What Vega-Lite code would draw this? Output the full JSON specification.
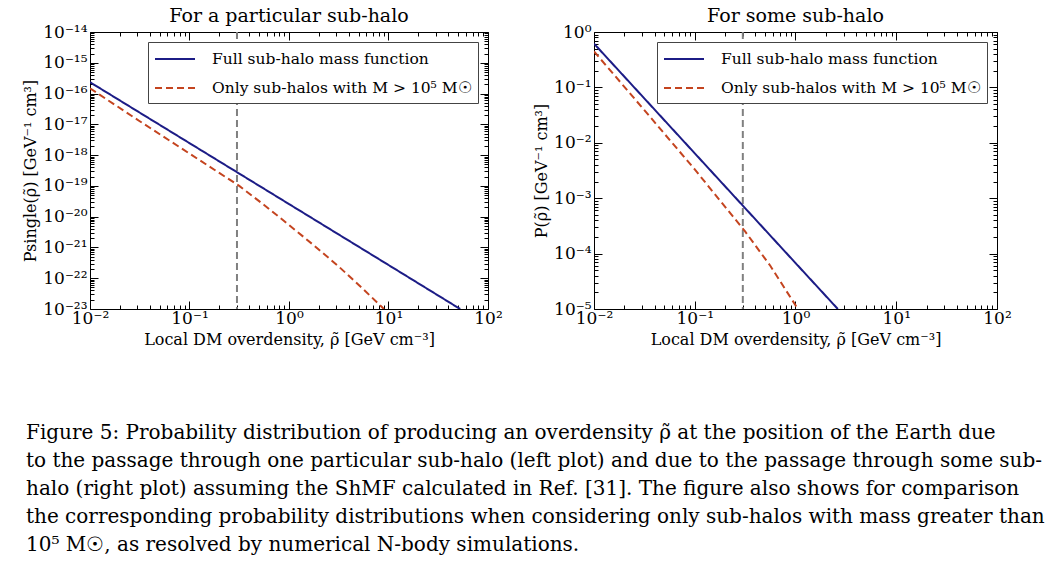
{
  "$schema": "https://vega.github.io/schema/vega-lite/v6.json",
  "padding": {"left": 22, "top": 6, "right": 0, "bottom": 0},
  "background": "white",
  "title": {
    "text": [
      "Figure 5:  Probability distribution of producing an overdensity ρ̃ at the position of the Earth due",
      "to the passage through one particular sub-halo (left plot) and due to the passage through some sub-",
      "halo (right plot) assuming the ShMF calculated in Ref. [31].  The figure also shows for comparison",
      "the corresponding probability distributions when considering only sub-halos with mass greater than",
      "10⁵ M☉, as resolved by numerical N-body simulations."
    ],
    "orient": "bottom",
    "anchor": "start",
    "frame": "group",
    "font": "DejaVu Serif",
    "fontSize": 20,
    "fontWeight": "normal",
    "lineHeight": 28,
    "color": "#000",
    "offset": 75,
    "dx": -64
  },
  "spacing": 30,
  "hconcat": [
    {
      "width": 398,
      "height": 277,
      "title": {"text": "For a particular sub-halo", "fontSize": 19, "fontWeight": "normal", "font": "DejaVu Serif", "offset": -3, "color": "#000"},
      "data": {"values": [
        {"series": "Full sub-halo mass function", "rho": 0.01, "p": 2.34e-16},
        {"series": "Full sub-halo mass function", "rho": 0.1, "p": 2.45e-18},
        {"series": "Full sub-halo mass function", "rho": 1, "p": 2.57e-20},
        {"series": "Full sub-halo mass function", "rho": 10, "p": 2.69e-22},
        {"series": "Full sub-halo mass function", "rho": 52.5, "p": 1e-23},
        {"series": "Only sub-halos with M > 10⁵ M☉", "rho": 0.01, "p": 1.48e-16},
        {"series": "Only sub-halos with M > 10⁵ M☉", "rho": 0.0316, "p": 1.26e-17},
        {"series": "Only sub-halos with M > 10⁵ M☉", "rho": 0.1, "p": 1.12e-18},
        {"series": "Only sub-halos with M > 10⁵ M☉", "rho": 0.316, "p": 1.0e-19},
        {"series": "Only sub-halos with M > 10⁵ M☉", "rho": 0.562, "p": 2.4e-20},
        {"series": "Only sub-halos with M > 10⁵ M☉", "rho": 1, "p": 5.37e-21},
        {"series": "Only sub-halos with M > 10⁵ M☉", "rho": 1.778, "p": 1.17e-21},
        {"series": "Only sub-halos with M > 10⁵ M☉", "rho": 3.16, "p": 2.4e-22},
        {"series": "Only sub-halos with M > 10⁵ M☉", "rho": 5.62, "p": 4.3e-23},
        {"series": "Only sub-halos with M > 10⁵ M☉", "rho": 9.0, "p": 1e-23}
      ]},
      "layer": [
        {
          "mark": {"type": "rule", "color": "#808080", "strokeDash": [7, 4], "strokeWidth": 2},
          "data": {"values": [{"rho": 0.3}]},
          "encoding": {
            "x": {"field": "rho", "type": "quantitative", "scale": {"type": "log", "domain": [0.01, 100]}, "axis": null}
          }
        },
        {
          "transform": [{"filter": "datum.series == 'Full sub-halo mass function'"}],
          "mark": {"type": "line", "strokeWidth": 2, "clip": true},
          "encoding": {
            "x": {"field": "rho", "type": "quantitative", "scale": {"type": "log", "domain": [0.01, 100]},
              "title": "Local DM overdensity, ρ̃ [GeV cm⁻³]",
              "axis": {"orient": "bottom", "values": [0.01,0.02,0.03,0.04,0.05,0.06,0.07,0.08,0.09,0.1,0.2,0.3,0.4,0.5,0.6,0.7,0.8,0.9,1,2,3,4,5,6,7,8,9,10,20,30,40,50,60,70,80,90,100],
                "tickSize": {"condition": {"test": "abs(log(datum.value)/LN10 - round(log(datum.value)/LN10)) < 0.001", "value": -8}, "value": -4},
                "labelPadding": 9,
                "labelExpr": "abs(log(datum.value)/LN10 - round(log(datum.value)/LN10)) < 0.001 ? '10' + (datum.value < 0.99 ? '⁻' : '') + (abs(round(log(datum.value)/LN10)) >= 10 ? ['⁰','¹','²','³','⁴','⁵','⁶','⁷','⁸','⁹'][floor(abs(round(log(datum.value)/LN10))/10)] : '') + ['⁰','¹','²','³','⁴','⁵','⁶','⁷','⁸','⁹'][abs(round(log(datum.value)/LN10)) % 10] : ''",
                "titlePadding": 1}},
            "y": {"field": "p", "type": "quantitative", "scale": {"type": "log", "domain": [1e-23, 1e-14]},
              "title": "Psingle(ρ̃) [GeV⁻¹ cm³]",
              "axis": {"orient": "left", "values": [1e-23,2e-23,3e-23,4e-23,5e-23,6e-23,7e-23,8e-23,9e-23,1e-22,2e-22,3e-22,4e-22,5e-22,6e-22,7e-22,8e-22,9e-22,1e-21,2e-21,3e-21,4e-21,5e-21,6e-21,7e-21,8e-21,9e-21,1e-20,2e-20,3e-20,4e-20,5e-20,6e-20,7e-20,8e-20,9e-20,1e-19,2e-19,3e-19,4e-19,5e-19,6e-19,7e-19,8e-19,9e-19,1e-18,2e-18,3e-18,4e-18,5e-18,6e-18,7e-18,8e-18,9e-18,1e-17,2e-17,3e-17,4e-17,5e-17,6e-17,7e-17,8e-17,9e-17,1e-16,2e-16,3e-16,4e-16,5e-16,6e-16,7e-16,8e-16,9e-16,1e-15,2e-15,3e-15,4e-15,5e-15,6e-15,7e-15,8e-15,9e-15,1e-14],
                "tickSize": {"condition": {"test": "abs(log(datum.value)/LN10 - round(log(datum.value)/LN10)) < 0.001", "value": -8}, "value": -4},
                "labelPadding": 11,
                "labelExpr": "abs(log(datum.value)/LN10 - round(log(datum.value)/LN10)) < 0.001 ? '10' + (datum.value < 0.99 ? '⁻' : '') + (abs(round(log(datum.value)/LN10)) >= 10 ? ['⁰','¹','²','³','⁴','⁵','⁶','⁷','⁸','⁹'][floor(abs(round(log(datum.value)/LN10))/10)] : '') + ['⁰','¹','²','³','⁴','⁵','⁶','⁷','⁸','⁹'][abs(round(log(datum.value)/LN10)) % 10] : ''",
                "titlePadding": 4}},
            "color": {"field": "series", "type": "nominal", "title": null,
              "scale": {"domain": ["Full sub-halo mass function", "Only sub-halos with M > 10⁵ M☉"], "range": ["#1c1c86", "#c4441f"]}},
            "strokeDash": {"field": "series", "type": "nominal", "title": null,
              "scale": {"domain": ["Full sub-halo mass function", "Only sub-halos with M > 10⁵ M☉"], "range": [[1, 0], [7, 4]]}}
          }
        },
        {
          "transform": [{"filter": "datum.series != 'Full sub-halo mass function'"}],
          "mark": {"type": "line", "strokeWidth": 2, "clip": true},
          "encoding": {
            "x": {"field": "rho", "type": "quantitative", "scale": {"type": "log", "domain": [0.01, 100]},
              "axis": {"orient": "top", "labels": false, "title": null, "values": [0.01,0.02,0.03,0.04,0.05,0.06,0.07,0.08,0.09,0.1,0.2,0.3,0.4,0.5,0.6,0.7,0.8,0.9,1,2,3,4,5,6,7,8,9,10,20,30,40,50,60,70,80,90,100],
                "tickSize": {"condition": {"test": "abs(log(datum.value)/LN10 - round(log(datum.value)/LN10)) < 0.001", "value": -8}, "value": -4}}},
            "y": {"field": "p", "type": "quantitative", "scale": {"type": "log", "domain": [1e-23, 1e-14]},
              "axis": {"orient": "right", "labels": false, "title": null, "values": [1e-23,2e-23,3e-23,4e-23,5e-23,6e-23,7e-23,8e-23,9e-23,1e-22,2e-22,3e-22,4e-22,5e-22,6e-22,7e-22,8e-22,9e-22,1e-21,2e-21,3e-21,4e-21,5e-21,6e-21,7e-21,8e-21,9e-21,1e-20,2e-20,3e-20,4e-20,5e-20,6e-20,7e-20,8e-20,9e-20,1e-19,2e-19,3e-19,4e-19,5e-19,6e-19,7e-19,8e-19,9e-19,1e-18,2e-18,3e-18,4e-18,5e-18,6e-18,7e-18,8e-18,9e-18,1e-17,2e-17,3e-17,4e-17,5e-17,6e-17,7e-17,8e-17,9e-17,1e-16,2e-16,3e-16,4e-16,5e-16,6e-16,7e-16,8e-16,9e-16,1e-15,2e-15,3e-15,4e-15,5e-15,6e-15,7e-15,8e-15,9e-15,1e-14],
                "tickSize": {"condition": {"test": "abs(log(datum.value)/LN10 - round(log(datum.value)/LN10)) < 0.001", "value": -8}, "value": -4}}},
            "color": {"field": "series", "type": "nominal", "title": null,
              "scale": {"domain": ["Full sub-halo mass function", "Only sub-halos with M > 10⁵ M☉"], "range": ["#1c1c86", "#c4441f"]}},
            "strokeDash": {"field": "series", "type": "nominal", "title": null,
              "scale": {"domain": ["Full sub-halo mass function", "Only sub-halos with M > 10⁵ M☉"], "range": [[1, 0], [7, 4]]}}
          }
        }
      ],
      "resolve": {"axis": {"x": "independent", "y": "independent"}}
    },
    {
      "width": 403,
      "height": 277,
      "title": {"text": "For some sub-halo", "fontSize": 19, "fontWeight": "normal", "font": "DejaVu Serif", "offset": -3, "color": "#000"},
      "data": {"values": [
        {"series": "Full sub-halo mass function", "rho": 0.01, "p": 0.617},
        {"series": "Full sub-halo mass function", "rho": 0.1, "p": 0.00646},
        {"series": "Full sub-halo mass function", "rho": 1, "p": 6.76e-5},
        {"series": "Full sub-halo mass function", "rho": 2.63, "p": 1e-5},
        {"series": "Only sub-halos with M > 10⁵ M☉", "rho": 0.01, "p": 0.447},
        {"series": "Only sub-halos with M > 10⁵ M☉", "rho": 0.0316, "p": 0.0389},
        {"series": "Only sub-halos with M > 10⁵ M☉", "rho": 0.1, "p": 0.00331},
        {"series": "Only sub-halos with M > 10⁵ M☉", "rho": 0.316, "p": 0.000251},
        {"series": "Only sub-halos with M > 10⁵ M☉", "rho": 0.562, "p": 6.03e-5},
        {"series": "Only sub-halos with M > 10⁵ M☉", "rho": 1, "p": 1.17e-5},
        {"series": "Only sub-halos with M > 10⁵ M☉", "rho": 1.047, "p": 1e-5}
      ]},
      "layer": [
        {
          "mark": {"type": "rule", "color": "#808080", "strokeDash": [7, 4], "strokeWidth": 2},
          "data": {"values": [{"rho": 0.3}]},
          "encoding": {
            "x": {"field": "rho", "type": "quantitative", "scale": {"type": "log", "domain": [0.01, 100]}, "axis": null}
          }
        },
        {
          "transform": [{"filter": "datum.series == 'Full sub-halo mass function'"}],
          "mark": {"type": "line", "strokeWidth": 2, "clip": true},
          "encoding": {
            "x": {"field": "rho", "type": "quantitative", "scale": {"type": "log", "domain": [0.01, 100]},
              "title": "Local DM overdensity, ρ̃ [GeV cm⁻³]",
              "axis": {"orient": "bottom", "values": [0.01,0.02,0.03,0.04,0.05,0.06,0.07,0.08,0.09,0.1,0.2,0.3,0.4,0.5,0.6,0.7,0.8,0.9,1,2,3,4,5,6,7,8,9,10,20,30,40,50,60,70,80,90,100],
                "tickSize": {"condition": {"test": "abs(log(datum.value)/LN10 - round(log(datum.value)/LN10)) < 0.001", "value": -8}, "value": -4},
                "labelPadding": 9,
                "labelExpr": "abs(log(datum.value)/LN10 - round(log(datum.value)/LN10)) < 0.001 ? '10' + (datum.value < 0.99 ? '⁻' : '') + (abs(round(log(datum.value)/LN10)) >= 10 ? ['⁰','¹','²','³','⁴','⁵','⁶','⁷','⁸','⁹'][floor(abs(round(log(datum.value)/LN10))/10)] : '') + ['⁰','¹','²','³','⁴','⁵','⁶','⁷','⁸','⁹'][abs(round(log(datum.value)/LN10)) % 10] : ''",
                "titlePadding": 1}},
            "y": {"field": "p", "type": "quantitative", "scale": {"type": "log", "domain": [1e-5, 1]},
              "title": "P(ρ̃) [GeV⁻¹ cm³]",
              "axis": {"orient": "left", "values": [1e-5,2e-5,3e-5,4e-5,5e-5,6e-5,7e-5,8e-5,9e-5,1e-4,2e-4,3e-4,4e-4,5e-4,6e-4,7e-4,8e-4,9e-4,0.001,0.002,0.003,0.004,0.005,0.006,0.007,0.008,0.009,0.01,0.02,0.03,0.04,0.05,0.06,0.07,0.08,0.09,0.1,0.2,0.3,0.4,0.5,0.6,0.7,0.8,0.9,1],
                "tickSize": {"condition": {"test": "abs(log(datum.value)/LN10 - round(log(datum.value)/LN10)) < 0.001", "value": -8}, "value": -4},
                "labelPadding": 11,
                "labelExpr": "abs(log(datum.value)/LN10 - round(log(datum.value)/LN10)) < 0.001 ? '10' + (datum.value < 0.99 ? '⁻' : '') + (abs(round(log(datum.value)/LN10)) >= 10 ? ['⁰','¹','²','³','⁴','⁵','⁶','⁷','⁸','⁹'][floor(abs(round(log(datum.value)/LN10))/10)] : '') + ['⁰','¹','²','³','⁴','⁵','⁶','⁷','⁸','⁹'][abs(round(log(datum.value)/LN10)) % 10] : ''",
                "titlePadding": 4}},
            "color": {"field": "series", "type": "nominal", "title": null,
              "scale": {"domain": ["Full sub-halo mass function", "Only sub-halos with M > 10⁵ M☉"], "range": ["#1c1c86", "#c4441f"]}},
            "strokeDash": {"field": "series", "type": "nominal", "title": null,
              "scale": {"domain": ["Full sub-halo mass function", "Only sub-halos with M > 10⁵ M☉"], "range": [[1, 0], [7, 4]]}}
          }
        },
        {
          "transform": [{"filter": "datum.series != 'Full sub-halo mass function'"}],
          "mark": {"type": "line", "strokeWidth": 2, "clip": true},
          "encoding": {
            "x": {"field": "rho", "type": "quantitative", "scale": {"type": "log", "domain": [0.01, 100]},
              "axis": {"orient": "top", "labels": false, "title": null, "values": [0.01,0.02,0.03,0.04,0.05,0.06,0.07,0.08,0.09,0.1,0.2,0.3,0.4,0.5,0.6,0.7,0.8,0.9,1,2,3,4,5,6,7,8,9,10,20,30,40,50,60,70,80,90,100],
                "tickSize": {"condition": {"test": "abs(log(datum.value)/LN10 - round(log(datum.value)/LN10)) < 0.001", "value": -8}, "value": -4}}},
            "y": {"field": "p", "type": "quantitative", "scale": {"type": "log", "domain": [1e-5, 1]},
              "axis": {"orient": "right", "labels": false, "title": null, "values": [1e-5,2e-5,3e-5,4e-5,5e-5,6e-5,7e-5,8e-5,9e-5,1e-4,2e-4,3e-4,4e-4,5e-4,6e-4,7e-4,8e-4,9e-4,0.001,0.002,0.003,0.004,0.005,0.006,0.007,0.008,0.009,0.01,0.02,0.03,0.04,0.05,0.06,0.07,0.08,0.09,0.1,0.2,0.3,0.4,0.5,0.6,0.7,0.8,0.9,1],
                "tickSize": {"condition": {"test": "abs(log(datum.value)/LN10 - round(log(datum.value)/LN10)) < 0.001", "value": -8}, "value": -4}}},
            "color": {"field": "series", "type": "nominal", "title": null,
              "scale": {"domain": ["Full sub-halo mass function", "Only sub-halos with M > 10⁵ M☉"], "range": ["#1c1c86", "#c4441f"]}},
            "strokeDash": {"field": "series", "type": "nominal", "title": null,
              "scale": {"domain": ["Full sub-halo mass function", "Only sub-halos with M > 10⁵ M☉"], "range": [[1, 0], [7, 4]]}}
          }
        }
      ],
      "resolve": {"axis": {"x": "independent", "y": "independent"}}
    }
  ],
  "resolve": {"scale": {"color": "independent", "strokeDash": "independent"}},
  "config": {
    "font": "DejaVu Serif",
    "title": {"font": "DejaVu Serif", "fontWeight": "normal", "color": "#000"},
    "view": {"stroke": "#000", "strokeWidth": 1},
    "axis": {
      "grid": false, "domain": false,
      "tickColor": "#000", "tickWidth": 1,
      "labelColor": "#000", "labelFontSize": 17, "labelFont": "DejaVu Serif",
      "labelOverlap": false, "labelFlush": false, "labelBound": false,
      "titleColor": "#000", "titleFontSize": 16, "titleFontWeight": "normal", "titleFont": "DejaVu Serif"
    },
    "legend": {
      "orient": "top-right", "offset": 10,
      "strokeColor": "#444", "fillColor": "#fff", "padding": 6, "rowPadding": 9,
      "symbolType": "M-2,0H2", "symbolSize": 400, "symbolStrokeWidth": 2, "symbolOffset": 10,
      "labelFontSize": 15.5, "labelFont": "DejaVu Serif", "labelColor": "#000", "labelLimit": 400, "labelOffset": 26,
      "cornerRadius": 0
    }
  }
}
